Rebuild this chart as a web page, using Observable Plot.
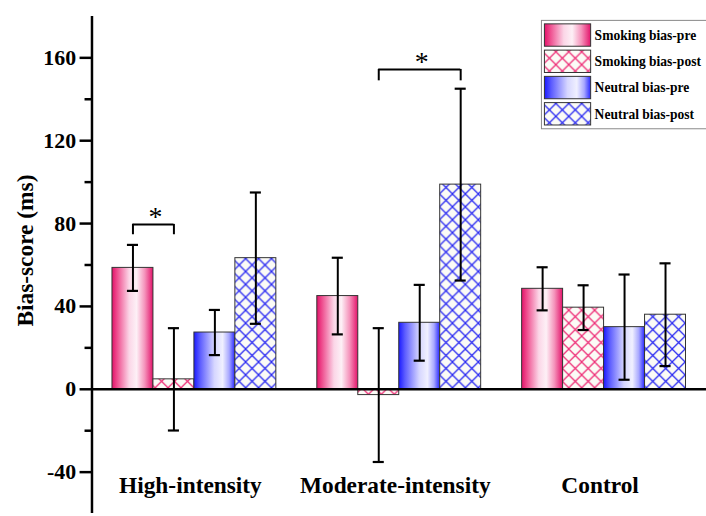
<!DOCTYPE html>
<html>
<head>
<meta charset="utf-8">
<script src="https://cdn.jsdelivr.net/npm/d3@7"></script>
<script src="https://cdn.jsdelivr.net/npm/@observablehq/plot@0.6"></script>
<style>
  html, body { margin: 0; padding: 0; background: #fff; overflow: hidden; }
  svg text { font-family: "Liberation Serif", "Times New Roman", serif; }
</style>
</head>
<body>
<div id="chart"></div>
<script>
// ---- data ----
const groups = ["High-intensity", "Moderate-intensity", "Control"];
const seriesNames = ["Smoking bias-pre", "Smoking bias-post", "Neutral bias-pre", "Neutral bias-post"];
const smokingPre    = [58.6, 45.0, 48.5];
const smokingPreSE  = [11.1, 18.5, 10.4];
const smokingPost   = [4.8, -2.8, 39.4];
const smokingPostSE = [24.7, 32.3, 10.8];
const neutralPre    = [27.4, 32.1, 30.0];
const neutralPreSE  = [10.9, 18.3, 25.4];
const neutralPost   = [63.3, 98.8, 36.0];
const neutralPostSE = [31.7, 46.3, 24.8];
const yTicks = [-40, 0, 40, 80, 120, 160];
const yMinorTicks = [-20, 20, 60, 100, 140];
const brackets = [
  {group: "High-intensity", from: "Smoking bias-pre", to: "Smoking bias-post", y: 79.6, drop: 5, label: "*"},
  {group: "Moderate-intensity", from: "Smoking bias-post", to: "Neutral bias-post", y: 154.4, drop: 5.5, label: "*"}
];

// ---- derived table ----
const values = [smokingPre, smokingPost, neutralPre, neutralPost];
const errors = [smokingPreSE, smokingPostSE, neutralPreSE, neutralPostSE];
const fills = ["url(#gradPink)", "url(#hatchPink)", "url(#gradBlue)", "url(#hatchBlue)"];
const BW = 0.2;
const rows = seriesNames.flatMap((s, j) => groups.map((g, i) => ({
  group: g, series: s, gi: i, sj: j, value: values[j][i], se: errors[j][i],
  x1: i + (j - 2) * BW, x2: i + (j - 1) * BW, xc: i + (j - 1.5) * BW
})));
const caps = rows.flatMap(d => [{...d, yc: d.value - d.se}, {...d, yc: d.value + d.se}]);
const CAP = 0.027;
const centerOf = (g, s) => groups.indexOf(g) + (seriesNames.indexOf(s) - 1.5) * BW;
const bracketSegs = brackets.flatMap(b => {
  const a = centerOf(b.group, b.from), c = centerOf(b.group, b.to);
  return [
    {x1: a, x2: a, y1: b.y - b.drop, y2: b.y},
    {x1: c, x2: c, y1: b.y - b.drop, y2: b.y},
    {x1: a, x2: c, y1: b.y, y2: b.y}
  ];
});

const font = "Liberation Serif";

const plot = Plot.plot({
  width: 710,
  height: 516,
  marginLeft: 92,
  marginRight: 0,
  marginTop: 16,
  marginBottom: 0,
  style: {fontFamily: font, fontWeight: "bold", color: "black", background: "white", overflow: "visible"},
  x: {type: "linear", domain: [-0.5, 2.5], axis: null},
  y: {domain: [-60, 180], label: null},
  marks: [
    ...seriesNames.map((s, j) => Plot.rectY(rows.filter(d => d.sj === j), {
      x1: "x1", x2: "x2", y: "value", fill: fills[j], stroke: "#333", strokeWidth: 1
    })),
    Plot.ruleY([0], {stroke: "black", strokeWidth: 2.5}),
    Plot.ruleX([-0.5], {stroke: "black", strokeWidth: 2.5}),
    Plot.ruleX(rows, {x: "xc", y1: d => d.value - d.se, y2: d => d.value + d.se, stroke: "black", strokeWidth: 2}),
    Plot.ruleY(caps, {y: "yc", x1: d => d.xc - CAP, x2: d => d.xc + CAP, stroke: "black", strokeWidth: 2.2}),
    Plot.ruleY(bracketSegs.filter(d => d.y1 === d.y2), {x1: "x1", x2: "x2", y: "y1", stroke: "black", strokeWidth: 2}),
    Plot.ruleX(bracketSegs.filter(d => d.x1 === d.x2), {x: "x1", y1: "y1", y2: "y2", stroke: "black", strokeWidth: 2}),
    Plot.text(brackets, {
      x: b => (centerOf(b.group, b.from) + centerOf(b.group, b.to)) / 2, y: "y", text: "label",
      fontFamily: font, fontSize: 28, fontWeight: "normal", fill: "black", dy: -7, dx: 2
    }),
    Plot.axisY({ticks: yTicks, tickSize: 12, tickPadding: 4, strokeWidth: 2.5, fontFamily: font, fontSize: 22, fontWeight: "bold",
      tickFormat: d => String(d), label: null, fill: "black"}),
    Plot.axisY({ticks: yMinorTicks, tickSize: 7, strokeWidth: 2.5, tickFormat: () => "", label: null}),
    Plot.text(groups, {x: (d, i) => i, frameAnchor: "bottom", lineAnchor: "bottom", dy: -21, dx: -4,
      text: d => d, fontFamily: font, fontSize: 23.5, fontWeight: "bold", fill: "black"})
  ]
});

document.getElementById("chart").appendChild(plot);

// ---- defs: gradients and hatch patterns ----
const svg = d3.select(plot);
const defs = svg.insert("defs", ":first-child");
function grad(id, stops) {
  const g = defs.append("linearGradient").attr("id", id).attr("x1", 0).attr("x2", 1).attr("y1", 0).attr("y2", 0);
  stops.forEach(([o, c]) => g.append("stop").attr("offset", o).attr("stop-color", c));
}
grad("gradPink", [[0, "#e3126a"], [0.12, "#ee4a8c"], [0.42, "#fbd6e7"], [0.6, "#fdf0f6"], [0.8, "#f593bb"], [1, "#e3146b"]]);
grad("gradBlue", [[0, "#1a1aff"], [0.15, "#5c5cff"], [0.5, "#d6d6ff"], [0.7, "#f0f0ff"], [0.86, "#a8a8ff"], [1, "#2828ff"]]);
function hatch(id, color) {
  const p = defs.append("pattern").attr("id", id).attr("patternUnits", "userSpaceOnUse").attr("width", 13).attr("height", 13);
  p.append("rect").attr("width", 13).attr("height", 13).attr("fill", "#fbfbf6");
  p.append("path").attr("d", "M-1,-1L14,14M14,-1L-1,14").attr("stroke", color).attr("stroke-width", 1.3).attr("fill", "none");
}
hatch("hatchPink", "#ee2f78");
hatch("hatchBlue", "#2a2af2");

// ---- y-axis title ----
svg.append("text")
  .attr("transform", "translate(25,252) rotate(-90)")
  .attr("text-anchor", "middle")
  .attr("dominant-baseline", "central")
  .attr("font-family", font).attr("font-weight", "bold").attr("font-size", 23.5).attr("fill", "black")
  .text("Bias-score (ms)");

// ---- legend ----
const lg = svg.append("g").attr("font-family", font).attr("font-weight", "bold").attr("font-size", 13.6)
  .attr("text-anchor", "start");
lg.append("rect").attr("x", 544.5).attr("y", 20.5).attr("width", 170).attr("height", 109)
  .attr("fill", "white").attr("stroke", "#888").attr("stroke-width", 1);
seriesNames.forEach((s, j) => {
  const y0 = 24 + j * 26.4;
  lg.append("rect").attr("x", 547.5).attr("y", y0).attr("width", 46.5).attr("height", 22.5)
    .attr("fill", fills[j]).attr("stroke", "#333").attr("stroke-width", 1);
  lg.append("text").attr("x", 598).attr("y", y0 + 11.5).attr("dominant-baseline", "central")
    .attr("text-anchor", "start").attr("fill", "black").text(s);
});
</script>
</body>
</html>
